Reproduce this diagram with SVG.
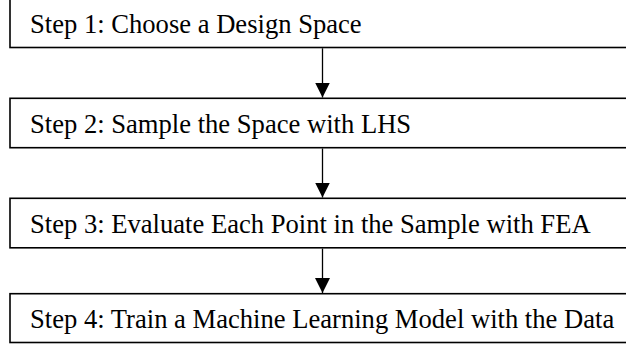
<svg xmlns="http://www.w3.org/2000/svg" width="626" height="349" viewBox="0 0 626 349">
<style>
.box{fill:#fff;stroke:#000;stroke-width:1.6}
.lbl{font-family:"Liberation Serif","Times New Roman",serif;font-size:26.6px;fill:#000}
.conn{stroke:#000;stroke-width:1.3;fill:none}
</style>
<defs>
<marker id="ah" markerUnits="userSpaceOnUse" markerWidth="16" markerHeight="18" refX="15" refY="7.5" orient="auto" viewBox="0 0 16 15">
<path d="M0,0 L15,7.5 L0,15 Z" fill="#000"/>
</marker>
</defs>
<rect width="626" height="349" fill="#fff"/>
<g id="step1"><rect class="box" x="10" y="-2" width="640" height="49.5"/><text class="lbl" x="30" y="33">Step 1: Choose a Design Space</text></g>
<g id="step2"><rect class="box" x="10" y="98.3" width="640" height="49.4"/><text class="lbl" x="30" y="133.3">Step 2: Sample the Space with LHS</text></g>
<g id="step3"><rect class="box" x="10" y="198.3" width="640" height="49.5"/><text class="lbl" x="30" y="233.3">Step 3: Evaluate Each Point in the Sample with FEA</text></g>
<g id="step4"><rect class="box" x="10" y="293.7" width="640" height="48.8"/><text class="lbl" x="30" y="328.3">Step 4: Train a Machine Learning Model with the Data</text></g>
<g id="connectors">
<line class="conn" x1="322.5" y1="48.3" x2="322.5" y2="97.5" marker-end="url(#ah)"/>
<line class="conn" x1="322.5" y1="148.5" x2="322.5" y2="197.5" marker-end="url(#ah)"/>
<line class="conn" x1="322.5" y1="248.6" x2="322.5" y2="293" marker-end="url(#ah)"/>
</g>
</svg>
